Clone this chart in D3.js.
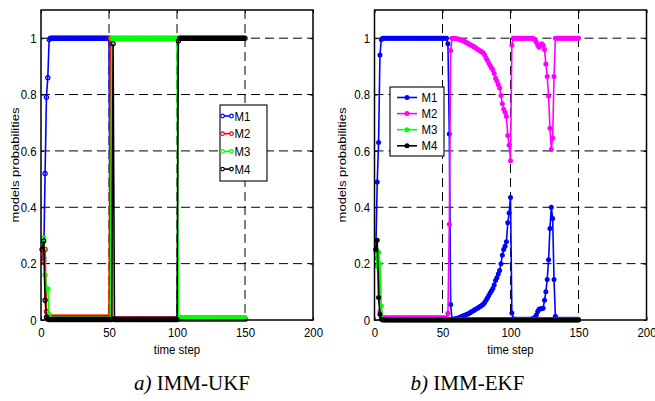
<!DOCTYPE html>
<html>
<head>
<meta charset="utf-8">
<script src="https://cdn.jsdelivr.net/npm/d3@7"></script>
<style>
  body { margin: 0; background: #fff; }
</style>
</head>
<body>
<div id="canvas"></div>
<script>
// ---- data -------------------------------------------------------------
var seriesNames = ['M1', 'M2', 'M3', 'M4'];
var xTicks = [0, 50, 100, 150, 200];
var yTicks = [0, 0.2, 0.4, 0.6, 0.8, 1];
var yTickLabels = ['0', '0.2', '0.4', '0.6', '0.8', '1'];
var steps = d3.range(1, 151);   // time step 1..150

// IMM-UKF model probabilities
var ukfM1 = [
  0.25,0.22,0.52,0.79,0.86,0.995,1,1,1,1,
  1,1,1,1,1,1,1,1,1,1,
  1,1,1,1,1,1,1,1,1,1,
  1,1,1,1,1,1,1,1,1,1,
  1,1,1,1,1,1,1,1,1,1,
  0.003,0.003,0.003,0.003,0.003,0.003,0.003,0.003,0.003,0.003,
  0.003,0.003,0.003,0.003,0.003,0.003,0.003,0.003,0.003,0.003,
  0.003,0.003,0.003,0.003,0.003,0.003,0.003,0.003,0.003,0.003,
  0.003,0.003,0.003,0.003,0.003,0.003,0.003,0.003,0.003,0.003,
  0.003,0.003,0.003,0.003,0.003,0.003,0.003,0.003,0.003,0.003,
  0.003,0.003,0.003,0.003,0.003,0.003,0.003,0.003,0.003,0.003,
  0.003,0.003,0.003,0.003,0.003,0.003,0.003,0.003,0.003,0.003,
  0.003,0.003,0.003,0.003,0.003,0.003,0.003,0.003,0.003,0.003,
  0.003,0.003,0.003,0.003,0.003,0.003,0.003,0.003,0.003,0.003,
  0.003,0.003,0.003,0.003,0.003,0.003,0.003,0.003,0.003,0.003
];
var ukfM2 = [
  0.25,0.21,0.25,0.03,0.012,0.01,0.01,0.01,0.01,0.01,
  0.01,0.01,0.01,0.01,0.01,0.01,0.01,0.01,0.01,0.01,
  0.01,0.01,0.01,0.01,0.01,0.01,0.01,0.01,0.01,0.01,
  0.01,0.01,0.01,0.01,0.01,0.01,0.01,0.01,0.01,0.01,
  0.01,0.01,0.01,0.01,0.01,0.01,0.01,0.01,0.01,0.01,
  1,0.004,0.003,0.003,0.003,0.003,0.003,0.003,0.003,0.003,
  0.003,0.003,0.003,0.003,0.003,0.003,0.003,0.003,0.003,0.003,
  0.003,0.003,0.003,0.003,0.003,0.003,0.003,0.003,0.003,0.003,
  0.003,0.003,0.003,0.003,0.003,0.003,0.003,0.003,0.003,0.003,
  0.003,0.003,0.003,0.003,0.003,0.003,0.003,0.003,0.003,0.003,
  0.003,0.003,0.003,0.003,0.003,0.003,0.003,0.003,0.003,0.003,
  0.003,0.003,0.003,0.003,0.003,0.003,0.003,0.003,0.003,0.003,
  0.003,0.003,0.003,0.003,0.003,0.003,0.003,0.003,0.003,0.003,
  0.003,0.003,0.003,0.003,0.003,0.003,0.003,0.003,0.003,0.003,
  0.003,0.003,0.003,0.003,0.003,0.003,0.003,0.003,0.003,0.003
];
var ukfM3 = [
  0.25,0.29,0.16,0.11,0.11,0.02,0.004,0.003,0.003,0.003,
  0.003,0.003,0.003,0.003,0.003,0.003,0.003,0.003,0.003,0.003,
  0.003,0.003,0.003,0.003,0.003,0.003,0.003,0.003,0.003,0.003,
  0.003,0.003,0.003,0.003,0.003,0.003,0.003,0.003,0.003,0.003,
  0.003,0.003,0.003,0.003,0.003,0.003,0.003,0.003,0.003,0.003,
  0.003,1,1,1,1,1,1,1,1,1,
  1,1,1,1,1,1,1,1,1,1,
  1,1,1,1,1,1,1,1,1,1,
  1,1,1,1,1,1,1,1,1,1,
  1,1,1,1,1,1,1,1,1,1,
  0.008,0.008,0.008,0.008,0.008,0.008,0.008,0.008,0.008,0.008,
  0.008,0.008,0.008,0.008,0.008,0.008,0.008,0.008,0.008,0.008,
  0.008,0.008,0.008,0.008,0.008,0.008,0.008,0.008,0.008,0.008,
  0.008,0.008,0.008,0.008,0.008,0.008,0.008,0.008,0.008,0.008,
  0.008,0.008,0.008,0.008,0.008,0.008,0.008,0.008,0.008,0.008
];
var ukfM4 = [
  0.25,0.28,0.07,0.01,0.003,0.002,0.002,0.002,0.002,0.002,
  0.002,0.002,0.002,0.002,0.002,0.002,0.002,0.002,0.002,0.002,
  0.002,0.002,0.002,0.002,0.002,0.002,0.002,0.002,0.002,0.002,
  0.002,0.002,0.002,0.002,0.002,0.002,0.002,0.002,0.002,0.002,
  0.002,0.002,0.002,0.002,0.002,0.002,0.002,0.002,0.002,0.002,
  0.002,0.002,0.98,0.002,0.002,0.002,0.002,0.002,0.002,0.002,
  0.002,0.002,0.002,0.002,0.002,0.002,0.002,0.002,0.002,0.002,
  0.002,0.002,0.002,0.002,0.002,0.002,0.002,0.002,0.002,0.002,
  0.002,0.002,0.002,0.002,0.002,0.002,0.002,0.002,0.002,0.002,
  0.002,0.002,0.002,0.002,0.002,0.002,0.002,0.002,0.002,0.002,
  0.99,1,1,1,1,1,1,1,1,1,
  1,1,1,1,1,1,1,1,1,1,
  1,1,1,1,1,1,1,1,1,1,
  1,1,1,1,1,1,1,1,1,1,
  1,1,1,1,1,1,1,1,1,1
];

// IMM-EKF model probabilities
var ekfM1 = [
  0.25,0.49,0.63,0.94,0.995,1,1,1,1,1,
  1,1,1,1,1,1,1,1,1,1,
  1,1,1,1,1,1,1,1,1,1,
  1,1,1,1,1,1,1,1,1,1,
  1,1,1,1,1,1,1,1,1,1,
  1,1,1,0.98,0.66,0.055,0.003,0.003,0.004,0.005,
  0.006,0.008,0.01,0.012,0.014,0.016,0.018,0.02,0.022,0.025,
  0.028,0.031,0.034,0.037,0.04,0.043,0.046,0.049,0.052,0.056,
  0.062,0.07,0.078,0.087,0.096,0.104,0.112,0.124,0.14,0.15,
  0.163,0.176,0.2,0.23,0.25,0.262,0.278,0.345,0.38,0.435,
  0.025,0.004,0.003,0.003,0.003,0.003,0.003,0.003,0.003,0.003,
  0.003,0.003,0.003,0.003,0.003,0.004,0.005,0.01,0.018,0.03,
  0.038,0.04,0.04,0.042,0.07,0.1,0.144,0.214,0.325,0.4,
  0.36,0.144,0.013,0.003,0.003,0.003,0.003,0.003,0.003,0.003,
  0.003,0.003,0.003,0.003,0.003,0.003,0.003,0.003,0.003,0.003
];
var ekfM2 = [
  0.25,0.22,0.24,0.03,0.01,0.008,0.008,0.008,0.008,0.008,
  0.008,0.008,0.008,0.008,0.008,0.008,0.008,0.008,0.008,0.008,
  0.008,0.008,0.008,0.008,0.008,0.008,0.008,0.008,0.008,0.008,
  0.008,0.008,0.008,0.008,0.008,0.008,0.008,0.008,0.008,0.008,
  0.008,0.008,0.008,0.008,0.008,0.008,0.008,0.008,0.008,0.008,
  0.008,0.008,0.008,0.024,0.34,0.956,1,0.999,0.999,0.998,
  0.998,0.996,0.994,0.993,0.991,0.989,0.986,0.984,0.981,0.978,
  0.975,0.973,0.97,0.967,0.963,0.96,0.957,0.954,0.951,0.948,
  0.94,0.93,0.922,0.912,0.903,0.895,0.888,0.875,0.858,0.848,
  0.836,0.823,0.797,0.767,0.748,0.737,0.722,0.655,0.62,0.565,
  0.975,1,1,1,1,1,1,1,1,1,
  1,1,1,1,1,1,0.998,0.994,0.986,0.975,
  0.968,0.973,0.98,0.975,0.96,0.908,0.864,0.795,0.68,0.605,
  0.646,0.864,1,1,1,1,1,1,1,1,
  1,1,1,1,1,1,1,1,1,1
];
var ekfM3 = [
  0.25,0.19,0.24,0.2,0.05,0.003,0.001,0.001,0.001,0.001,
  0.001,0.001,0.001,0.001,0.001,0.001,0.001,0.001,0.001,0.001,
  0.001,0.001,0.001,0.001,0.001,0.001,0.001,0.001,0.001,0.001,
  0.001,0.001,0.001,0.001,0.001,0.001,0.001,0.001,0.001,0.001,
  0.001,0.001,0.001,0.001,0.001,0.001,0.001,0.001,0.001,0.001,
  0.001,0.001,0.001,0.001,0.001,0.001,0.001,0.001,0.001,0.001,
  0.001,0.001,0.001,0.001,0.001,0.001,0.001,0.001,0.001,0.001,
  0.001,0.001,0.001,0.001,0.001,0.001,0.001,0.001,0.001,0.001,
  0.001,0.001,0.001,0.001,0.001,0.001,0.001,0.001,0.001,0.001,
  0.001,0.001,0.001,0.001,0.001,0.001,0.001,0.001,0.001,0.001,
  0.001,0.001,0.001,0.001,0.001,0.001,0.001,0.001,0.001,0.001,
  0.001,0.001,0.001,0.001,0.001,0.001,0.001,0.001,0.001,0.001,
  0.001,0.001,0.001,0.001,0.001,0.001,0.001,0.001,0.001,0.001,
  0.001,0.001,0.001,0.001,0.001,0.001,0.001,0.001,0.001,0.001,
  0.001,0.001,0.001,0.001,0.001,0.001,0.001,0.001,0.001,0.001
];
var ekfM4 = [
  0.25,0.283,0.08,0.02,0.003,0,0,0,0,0,
  0,0,0,0,0,0,0,0,0,0,
  0,0,0,0,0,0,0,0,0,0,
  0,0,0,0,0,0,0,0,0,0,
  0,0,0,0,0,0,0,0,0,0,
  0,0,0,0,0,0,0,0,0,0,
  0,0,0,0,0,0,0,0,0,0,
  0,0,0,0,0,0,0,0,0,0,
  0,0,0,0,0,0,0,0,0,0,
  0,0,0,0,0,0,0,0,0,0,
  0,0,0,0,0,0,0,0,0,0,
  0,0,0,0,0,0,0,0,0,0,
  0,0,0,0,0,0,0,0,0,0,
  0,0,0,0,0,0,0,0,0,0,
  0,0,0,0,0,0,0,0,0,0
];

var ukfColors = ['#0000ff', '#ff0000', '#00ff00', '#000000'];
var ekfColors = ['#0000ff', '#ff00ff', '#00ff00', '#000000'];

// ---- drawing ----------------------------------------------------------
var svg = d3.select('#canvas').append('svg')
  .attr('width', 655)
  .attr('height', 401)
  .style('font-family', '"Liberation Sans", Arial, sans-serif');

var squeeze = 'scale(0.88,1)';

function drawPanel(opt) {
  var x = d3.scaleLinear().domain([0, 200]).range([opt.left, opt.left + 272]);
  var y = d3.scaleLinear().domain([0, 1.1]).range([320, 10]);
  var g = svg.append('g');

  // dashed grid
  g.append('g').selectAll('line').data(xTicks.slice(1, -1)).join('line')
    .attr('x1', function(d) { return x(d); })
    .attr('x2', function(d) { return x(d); })
    .attr('y1', y(1.1))
    .attr('y2', y(0))
    .attr('stroke', '#000')
    .attr('stroke-dasharray', '9,5');
  g.append('g').selectAll('line').data(yTicks.slice(1)).join('line')
    .attr('x1', x(0))
    .attr('x2', x(200))
    .attr('y1', function(d) { return y(d); })
    .attr('y2', function(d) { return y(d); })
    .attr('stroke', '#000')
    .attr('stroke-dasharray', '9,5');

  // axes, ticks pointing inwards like matlab
  var bottom = g.append('g')
    .attr('transform', 'translate(0,' + y(0) + ')')
    .call(d3.axisBottom(x).tickValues(xTicks).tickSize(-3).tickPadding(8));
  var left = g.append('g')
    .attr('transform', 'translate(' + x(0) + ',0)')
    .call(d3.axisLeft(y).tickValues(yTicks).tickSize(-3).tickPadding(5)
      .tickFormat(function(d, i) { return yTickLabels[i]; }));
  g.append('g')
    .attr('transform', 'translate(0,' + y(1.1) + ')')
    .call(d3.axisTop(x).tickValues(xTicks).tickSize(-3).tickFormat(''));
  g.append('g')
    .attr('transform', 'translate(' + x(200) + ',0)')
    .call(d3.axisRight(y).tickValues(yTicks).tickSize(-3).tickFormat(''));
  g.selectAll('.domain').remove();
  g.selectAll('.tick line').attr('stroke', '#000');
  [bottom, left].forEach(function(a) {
    a.attr('font-family', null).attr('font-size', 13);
    a.selectAll('text').attr('fill', '#000').attr('transform', squeeze);
  });

  // series: line + markers
  var r = opt.open ? 2.1 : 2.5;
  opt.series.forEach(function(vals, k) {
    var pts = vals.map(function(v, i) { return [steps[i], v]; });
    g.append('path').datum(pts)
      .attr('d', d3.line().x(function(d) { return x(d[0]); }).y(function(d) { return y(d[1]); }))
      .attr('fill', 'none')
      .attr('stroke', opt.colors[k])
      .attr('stroke-width', 1.6);
    g.append('g').selectAll('circle').data(pts).join('circle')
      .attr('cx', function(d) { return x(d[0]); })
      .attr('cy', function(d) { return y(d[1]); })
      .attr('r', r)
      .attr('fill', opt.open ? 'none' : opt.colors[k])
      .attr('stroke', opt.open ? opt.colors[k] : 'none')
      .attr('stroke-width', 1.2);
  });

  // axes box
  g.append('rect')
    .attr('x', x(0)).attr('y', y(1.1))
    .attr('width', x(200) - x(0)).attr('height', y(0) - y(1.1))
    .attr('fill', 'none').attr('stroke', '#000').attr('stroke-width', 1.5);

  // axis titles
  g.append('text')
    .attr('transform', 'translate(' + (x(0) + x(200)) / 2 + ',354) ' + squeeze)
    .attr('text-anchor', 'middle')
    .attr('font-size', 13)
    .text('time step');
  g.append('text')
    .attr('transform', 'translate(' + opt.yTitleX + ',' + (y(0) + y(1.1)) / 2 + ') ' + squeeze + ' rotate(-90)')
    .attr('text-anchor', 'middle')
    .attr('font-size', 13)
    .text('models probabilities');

  // legend
  var L = opt.legend;
  var lg = g.append('g');
  lg.append('rect')
    .attr('x', L.x).attr('y', L.y).attr('width', L.w).attr('height', L.h)
    .attr('fill', '#fff').attr('stroke', '#000').attr('stroke-width', 1.1);
  seriesNames.forEach(function(name, k) {
    var ly = L.y0 + k * L.dy;
    lg.append('line')
      .attr('x1', L.lx1).attr('x2', L.lx2).attr('y1', ly).attr('y2', ly)
      .attr('stroke', opt.colors[k]).attr('stroke-width', 1.6);
    var marks = opt.open ? [L.lx1 + 1.5, L.lx2 - 1.5] : [(L.lx1 + L.lx2) / 2];
    marks.forEach(function(mx) {
      lg.append('circle')
        .attr('cx', mx).attr('cy', ly)
        .attr('r', opt.open ? 1.8 : 2.5)
        .attr('fill', opt.open ? '#fff' : opt.colors[k])
        .attr('stroke', opt.colors[k]).attr('stroke-width', opt.open ? 1.2 : 0);
    });
    lg.append('text')
      .attr('transform', 'translate(' + L.tx + ',' + (ly + 4.5) + ') ' + squeeze)
      .attr('font-size', 13)
      .text(name);
  });

  // caption
  var cap = svg.append('text')
    .attr('x', opt.capX).attr('y', 390)
    .attr('text-anchor', 'middle')
    .attr('font-family', '"Liberation Serif", "Times New Roman", serif')
    .attr('font-size', 21);
  cap.append('tspan').attr('font-style', 'italic').text(opt.capTag + ' ');
  cap.append('tspan').text(opt.capText);
}

drawPanel({
  left: 41,
  series: [ukfM1, ukfM2, ukfM3, ukfM4],
  colors: ukfColors,
  open: true,
  yTitleX: 19,
  legend: { x: 220, y: 105, w: 47, h: 76, y0: 116, dy: 17.7, lx1: 221, lx2: 233, tx: 234.5 },
  capX: 192, capTag: 'a)', capText: 'IMM-UKF'
});

drawPanel({
  left: 374.5,
  series: [ekfM1, ekfM2, ekfM3, ekfM4],
  colors: ekfColors,
  open: false,
  yTitleX: 345.5,
  legend: { x: 390, y: 87, w: 54, h: 69, y0: 97.5, dy: 16.1, lx1: 397, lx2: 417, tx: 421.5 },
  capX: 467.5, capTag: 'b)', capText: 'IMM-EKF'
});
</script>
</body>
</html>
